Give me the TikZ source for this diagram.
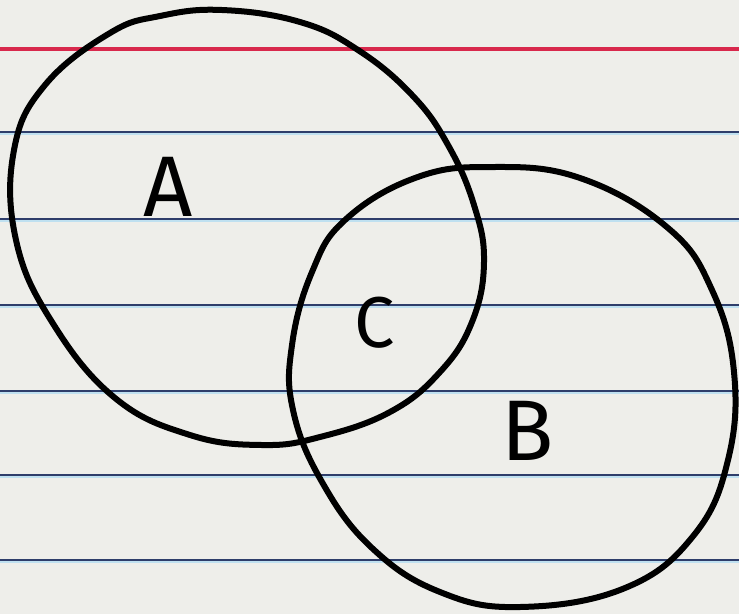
\documentclass[tikz,border=0pt]{standalone}
\usepackage{fontspec}
\newfontfamily\hand{Fira Sans}
\definecolor{paper}{HTML}{EEEEEA}
\definecolor{rule}{HTML}{2E3D6A}
\definecolor{rulehalo}{HTML}{BFE0F0}
\definecolor{margin}{HTML}{D8284C}
\tikzset{
  ruleline/.style={draw=rule, line width=1.6pt},
  rulehaloline/.style={draw=rulehalo, line width=4pt},
  marginline/.style={draw=margin, line width=4pt},
  setcurve/.style={draw=black, line width=6pt, line cap=round, line join=round},
  setlabel/.style={font=\hand\fontsize{86}{90}\selectfont, text=black, inner sep=0pt}
}
\begin{document}
\begin{tikzpicture}[x=1pt,y=-1pt]
\fill[paper] (0,0) rectangle (739,614);
\useasboundingbox (0,0) rectangle (739,614);
% margin line
\coordinate (mL) at (0,49); \coordinate (mR) at (739,49);
\draw[marginline] (mL) -- (mR);
% ruled lines
\foreach \y in {132,219,305,391,475,560}{
  \coordinate (rL) at (0,\y); \coordinate (rR) at (739,\y);
  \draw[rulehaloline] ([yshift=-1pt]rL) -- ([yshift=-1pt]rR);
  \draw[ruleline] (rL) -- (rR);
}
% set A
\draw[setcurve] plot[smooth cycle, tension=0.7] coordinates {
 (222,10) (300,22) (358,50) (412,95) (448,145) (474,205) (484,262) (472,322)
 (440,372) (390,412) (320,437) (262,445) (190,435) (115,398) (52,322)
 (16,240) (14,150) (45,85) (110,33) (160,16)};
% set B
\draw[setcurve] plot[smooth cycle, tension=0.7] coordinates {
 (490,167) (580,178) (668,228) (712,290) (734,372) (728,460) (694,535)
 (625,588) (520,607) (440,592) (372,548) (322,482) (293,410) (292,345)
 (312,272) (345,220) (415,178)};
% labels
\node[setlabel] (A) at (168,187) {A};
\node[setlabel, font=\hand\fontsize{72}{76}\selectfont] (C) at (375,323) {C};
\node[setlabel] (B) at (528,431) {B};
\end{tikzpicture}
\end{document}
